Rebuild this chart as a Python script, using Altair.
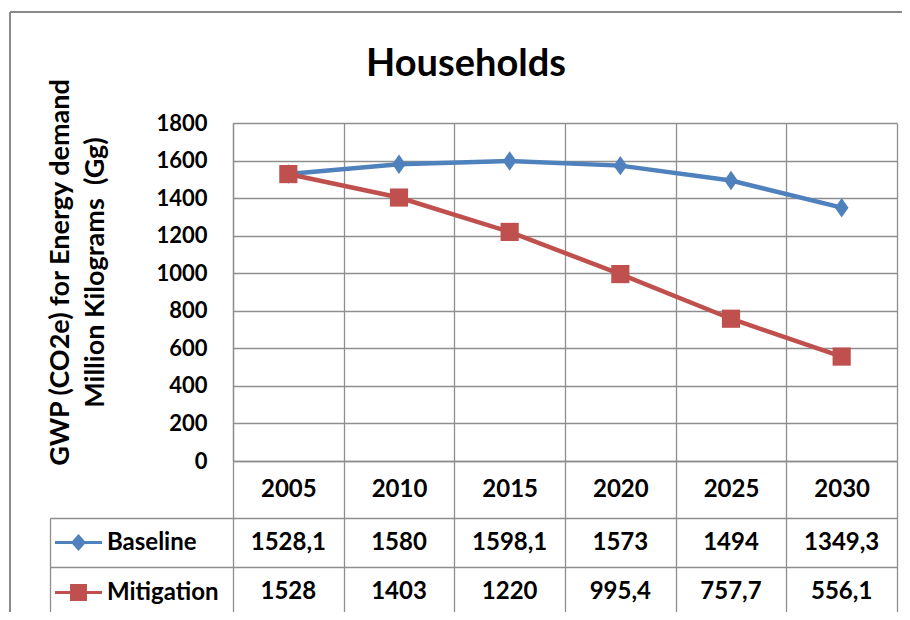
import altair as alt
import pandas as pd

# ---- data ----
years = ["2005", "2010", "2015", "2020", "2025", "2030"]
series = ["Baseline", "Mitigation"]
baseline = [1528.1, 1580, 1598.1, 1573, 1494, 1349.3]
mitigation = [1528, 1403, 1220, 995.4, 757.7, 556.1]
y_ticks = [0, 200, 400, 600, 800, 1000, 1200, 1400, 1600, 1800]
title_text = "Households"
y_title = ["GWP (CO2e) for Energy demand", "Million Kilograms\u00a0 (Gg)"]
colors = ["#4F81BD", "#C0504D"]

rows = []
for s, vals in zip(series, [baseline, mitigation]):
    for yr, v in zip(years, vals):
        rows.append({"year": yr, "series": s, "value": v,
                     "label": f"{v:g}".replace(".", ",")})
df = pd.DataFrame(rows)

# ---- styling / layout ----
FONT = "Lato"
GRID = "#8e8e8e"
GW = 1.3
FRAME = "#8a8a8a"
PLOT_W, PLOT_H = 664, 338
HEADER_H, ROW_H = 57, 49
TABLE_TOP = PLOT_H + HEADER_H
TABLE_BOTTOM = TABLE_TOP + 2 * ROW_H
LABEL_COL = 183

diamond_path = "M0,-1L0.7,0L0,1L-0.7,0Z"
key_paths = [
    "M-1,-0.064L1,-0.064L1,0.064L-1,0.064Z M0,-0.36L0.32,0L0,0.36L-0.32,0Z",
    "M-1,-0.064L1,-0.064L1,0.064L-1,0.064Z M-0.36,-0.36L0.36,-0.36L0.36,0.36L-0.36,0.36Z",
]
marker_shapes = [diamond_path, "square"]
marker_sizes = [380, 330]

x_scale = alt.Scale(type="band", domain=years, paddingInner=0, paddingOuter=0)
x_axis = alt.Axis(orient="bottom", tickBand="extent", ticks=True,
                  tickSize=HEADER_H + 2 * ROW_H, tickColor=GRID, tickWidth=GW,
                  domain=True, domainColor=GRID, domainWidth=GW,
                  grid=True, gridColor=GRID, gridWidth=GW,
                  labelPadding=HEADER_H / 2 - (HEADER_H + 2 * ROW_H),
                  labelBaseline="middle", labelAngle=0, labelFontSize=24,
                  title=None)
X = alt.X("year:N", scale=x_scale, axis=x_axis, bandPosition=0.5)

y_scale = alt.Scale(domain=[0, 1800])
y_axis = alt.Axis(orient="left", values=y_ticks, format="d", ticks=False,
                  domain=True, domainColor=GRID, domainWidth=GW,
                  grid=True, gridColor=GRID, gridWidth=GW,
                  labelPadding=26, labelFontSize=22,
                  title=y_title, titleFontSize=27, titleLineHeight=35,
                  titleAngle=270, titleX=-173, titleY=149,
                  titleAlign="center", titleBaseline="middle")
Y = alt.Y("value:Q", scale=y_scale, axis=y_axis)

layers = []
for s, c in zip(series, colors):
    layers.append(
        alt.Chart(df).transform_filter(alt.datum.series == s)
        .mark_line(strokeWidth=4.5, color=c)
        .encode(x=X, y=Y)
    )
for s, c, shp, sz in zip(series, colors, marker_shapes, marker_sizes):
    layers.append(
        alt.Chart(df).transform_filter(alt.datum.series == s)
        .mark_point(filled=True, opacity=1, shape=shp, size=sz, color=c, strokeWidth=0)
        .encode(x=X, y=Y)
    )
plot = alt.layer(*layers)

table_scale = alt.Scale(type="band", domain=series, range=[TABLE_TOP, TABLE_BOTTOM],
                        paddingInner=0, paddingOuter=0)
table_text = alt.Chart(df).mark_text(font=FONT, fontSize=24, fontWeight="bold",
                                     color="black").encode(
    x=X,
    y=alt.Y("series:N", scale=table_scale,
            axis=alt.Axis(orient="left", tickBand="extent", ticks=True,
                          tickSize=LABEL_COL, tickColor=GRID, tickWidth=GW,
                          grid=True, gridColor=GRID, gridWidth=GW,
                          labels=False, domain=False, title=None)),
    text=alt.Text("label:N"),
)

legend_props = dict(orient="none", legendX=-178, legendY=TABLE_TOP + 1,
                    direction="vertical", title=None, symbolSize=2209,
                    symbolStrokeWidth=0, symbolOpacity=1,
                    labelFont=FONT, labelFontSize=24, labelFontWeight="bold",
                    labelColor="black", labelOffset=5, rowPadding=14, padding=0)
legend_layer = alt.Chart(df).transform_filter("false").mark_point(
    filled=True, opacity=1).encode(
    color=alt.Color("series:N", scale=alt.Scale(domain=series, range=colors),
                    legend=alt.Legend(**legend_props)),
    shape=alt.Shape("series:N", scale=alt.Scale(domain=series, range=key_paths),
                    legend=alt.Legend(**legend_props)),
    y=alt.Y("series:N", scale=table_scale,
            axis=alt.Axis(orient="left", offset=LABEL_COL, domain=True,
                          domainColor=GRID, domainWidth=GW, ticks=False,
                          labels=False, grid=False, title=None)),
)

one = alt.Data(values=[{}])
frame_top = alt.Chart(one).mark_rule(color=FRAME, strokeWidth=2).encode(
    x=alt.value(-223), x2=alt.value(680), y=alt.value(-111))
frame_left = alt.Chart(one).mark_rule(color=FRAME, strokeWidth=2).encode(
    x=alt.value(-223), y=alt.value(-111), y2=alt.value(500))

chart = (
    alt.layer(plot, table_text, legend_layer, frame_top, frame_left)
    .resolve_scale(y="independent")
    .properties(
        width=PLOT_W, height=PLOT_H,
        padding={"left": 225, "top": 115, "right": 5, "bottom": 151},
        autosize=alt.AutoSizeParams(type="none"),
        title=alt.Title(text=title_text, font=FONT, fontSize=38, fontWeight="bold",
                        color="black", anchor="middle", frame="group", dx=-99,
                        offset=-103, baseline="alphabetic"),
        background="white",
    )
    .configure_view(strokeWidth=0)
    .configure_axis(labelFont=FONT, labelFontWeight="bold", labelColor="black",
                    titleFont=FONT, titleFontWeight="bold", titleColor="black")
)

chart.save("out.html", embed_options={"renderer": "svg", "actions": False})
